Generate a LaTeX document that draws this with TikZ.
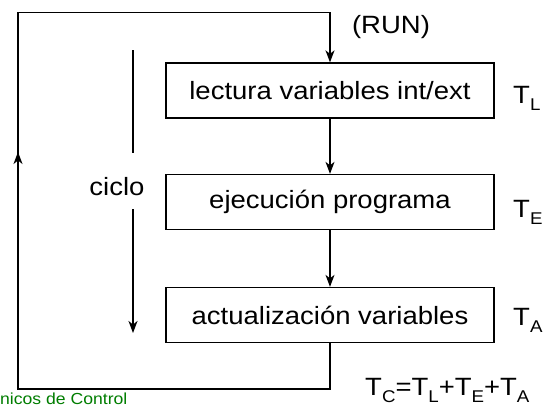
\documentclass[tikz,border=0pt]{standalone}
\usepackage{fontspec}
\setmainfont{Liberation Sans}[FakeStretch=1.1]
\usetikzlibrary{arrows.meta}
\definecolor{footgreen}{RGB}{0,125,0}
\newcommand{\bigtxt}{\fontsize{25}{30}\selectfont}
\newcommand{\subtxt}[1]{\raisebox{-0.3em}{\fontsize{17}{17}\selectfont #1}}
\tikzset{
  stepbox/.style={draw, line width=1.3pt, minimum width=328pt, minimum height=55pt,
    inner sep=0pt, font=\bigtxt},
  flow/.style={line width=1.3pt},
  tip/.style={-{Stealth[length=12pt,width=9pt,inset=3.5pt]}},
  lbl/.style={font=\bigtxt, inner sep=0pt}
}
\begin{document}
\begin{tikzpicture}[x=1pt,y=-1pt]
\useasboundingbox (0,0) rectangle (552,405);

% program steps
\node[stepbox] (lect) at (330,90.5) {lectura variables int/ext};
\node[stepbox] (ejec) at (330,202) {ejecución programa};
\node[stepbox] (actu) at (330,315) {actualización variables};

\draw[flow,tip] (lect) -- (ejec);
\draw[flow,tip] (ejec) -- (actu);

% return loop
\coordinate (br) at (330,389);
\coordinate (bl) at (18,389);
\coordinate (tl) at (18,12.5);
\coordinate (tr) at (330,12.5);
\coordinate (upmark) at (18,152);
\draw[flow,tip,line join=miter] (actu.south) -- (br) -- (bl) -- (tl) -- (tr) -- (lect.north);
\draw[flow,tip] (18,175) -- (upmark);

% cycle direction
\node[lbl, anchor=base] (ciclo) at (117,195) {ciclo};
\coordinate (ca) at (133,50);
\coordinate (cb) at (133,153);
\coordinate (cc) at (133,209);
\coordinate (cd) at (133,333);
\draw[flow] (ca) -- (cb);
\draw[flow,tip] (cc) -- (cd);

% labels
\node[lbl, anchor=base] (run) at (391,33) {(RUN)};
\node[lbl, anchor=base west] (tlab) at (513,103) {T\subtxt{L}};
\node[lbl, anchor=base west] (telab) at (513,217) {T\subtxt{E}};
\node[lbl, anchor=base west] (talab) at (513,325) {T\subtxt{A}};
\node[lbl, anchor=base west] (tc) at (365,395) {T\subtxt{C}=T\subtxt{L}+T\subtxt{E}+T\subtxt{A}};

% footer
\node[anchor=base west, inner sep=0pt, text=footgreen, font=\fontsize{16}{19}\selectfont] (foot) at (0,404.5) {nicos de Control};
\end{tikzpicture}
\end{document}
